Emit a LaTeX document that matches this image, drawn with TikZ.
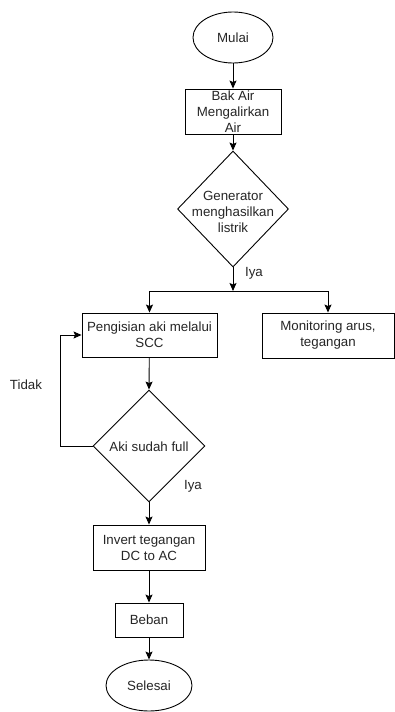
\documentclass[tikz,border=0pt]{standalone}
\usepackage{fontspec}
\setmainfont{Liberation Sans}
\usetikzlibrary{shapes.geometric,arrows.meta}
\begin{document}
\begin{tikzpicture}[x=1pt,y=-1pt,
  every node/.style={font=\fontsize{13.3}{16}\selectfont, text=black!85},
  box/.style={draw, line width=0.9pt, rectangle, inner sep=0pt, align=center},
  term/.style={draw, line width=0.9pt, ellipse, inner sep=0pt},
  dec/.style={draw, line width=0.9pt, diamond, inner sep=0pt},
  arr/.style={draw, line width=0.9pt, -{Stealth[length=8pt,width=7pt,inset=1.5pt]}},
  ln/.style={draw, line width=0.9pt}]
\useasboundingbox (0,0) rectangle (395,712);
\fill[white] (0,0) rectangle (395,712);

\node[term, minimum width=80, minimum height=51] (mulai) at (233,37.5) {Mulai};
\node[box, minimum width=96, minimum height=45] (bak) at (233,111.5) {};
\node[align=center, inner sep=0pt] (baktxt) at (233,112) {Bak Air\\Mengalirkan\\Air};
\node[dec, minimum width=111, minimum height=116] (gen) at (233,209) {};
\node[align=center, inner sep=0pt] (gentxt) at (233,212) {Generator\\menghasilkan\\listrik};
\coordinate (br) at (233,291);
\node[box, minimum width=135, minimum height=44] (peng) at (149.5,335) {Pengisian aki melalui\\SCC};
\node[box, minimum width=132, minimum height=45] (mon) at (328,335.5) {Monitoring arus,\\tegangan};
\node[dec, minimum width=112, minimum height=112] (aki) at (149,446) {};
\node[inner sep=0pt] (akitxt) at (149,447) {Aki sudah full};
\node[box, minimum width=112, minimum height=45] (inv) at (149,547.5) {Invert tegangan\\DC to AC};
\node[box, minimum width=68, minimum height=34] (beban) at (149,620) {Beban};
\node[term, minimum width=86, minimum height=51] (selesai) at (149,685.5) {Selesai};
\coordinate (lp) at (60,446);

\node (iya1) at (254,273) {Iya};
\node (iya2) at (193,486) {Iya};
\node (tidak) at (26,385) {Tidak};

\draw[arr] (mulai) -- (bak);
\draw[arr] (bak) -- (gen.north);
\draw[arr] (gen.south) -- (br);
\draw[arr] (br) -| (peng.north);
\draw[arr] (br) -| (mon.north);
\draw[arr] (peng) -- (aki.north);
\draw[ln] (aki.west) -- (lp);
\draw[arr] (lp) |- (peng.west);
\draw[arr] (aki.south) -- (inv);
\draw[arr] (inv) -- (beban);
\draw[arr] (beban) -- (selesai);
\end{tikzpicture}
\end{document}
